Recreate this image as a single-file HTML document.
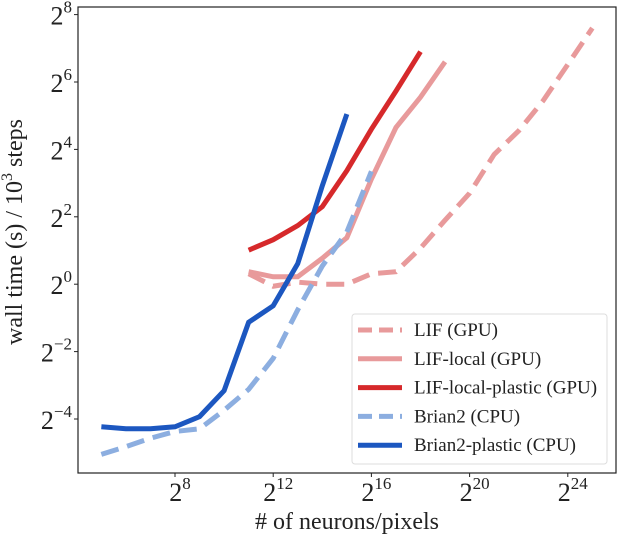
<!DOCTYPE html>
<html><head><meta charset="utf-8"><style>
body{margin:0;background:#fff}
text{font-family:"Liberation Serif",serif;fill:#222}
</style></head><body>
<svg id="chart" width="618" height="538" viewBox="0 0 618 538" font-family="Liberation Serif, serif">
<rect x="78" y="7" width="538" height="466" fill="none" stroke="#222" stroke-width="1.2"/>
<g id="series"></g>
<g id="ticks"></g>
<text x="22" y="232" font-size="24" text-anchor="middle" transform="rotate(-90 22 232)">wall time (s) / 10<tspan font-size="16" dy="-10">3</tspan><tspan dy="10"> steps</tspan></text>
<text x="347" y="529" font-size="24" text-anchor="middle"># of neurons/pixels</text>
<g>
<rect x="352" y="314" width="255" height="150" rx="3" fill="#fff" fill-opacity="0.8" stroke="#ddd"/>
<g id="legend-items"></g>
</g>
</svg>
<script>
const xExpTicks=[8,12,16,20,24];
const yExpTicks=[-4,-2,0,2,4,6,8];
const seriesNames=["LIF (GPU)","LIF-local (GPU)","LIF-local-plastic (GPU)","Brian2 (CPU)","Brian2-plastic (CPU)"];
const lifX=[11,12,13,14,15,16,17,18,19,20,21,22,23,24,25];
const lifY=[0.31,-0.06,0.06,0,0,0.31,0.37,1.07,1.9,2.7,3.85,4.55,5.45,6.52,7.6];
const lifLocalX=[11,12,13,14,15,16,17,18,19];
const lifLocalY=[0.37,0.22,0.22,0.77,1.38,3.12,4.65,5.55,6.6];
const lifPlasticX=[11,12,13,14,15,16,17,18];
const lifPlasticY=[1.01,1.32,1.74,2.3,3.37,4.6,5.73,6.9];
const brianX=[5,6,7,8,9,10,11,12,13,14,15,16];
const brianY=[-5.05,-4.82,-4.57,-4.37,-4.29,-3.74,-3.12,-2.2,-0.76,0.54,1.55,3.35];
const brianPlasticX=[5,6,7,8,9,10,11,12,13,14,15];
const brianPlasticY=[-4.23,-4.29,-4.29,-4.23,-3.93,-3.16,-1.13,-0.64,0.61,2.92,5.05];
const NS="http://www.w3.org/2000/svg";
const xs=k=>175+(k-8)*24.55;
const ys=k=>284.2-k*33.7;
const styles=[
 {c:"#e89a9b",d:"18 9"},{c:"#e89a9b",d:""},{c:"#d6292b",d:""},{c:"#8caee0",d:"18 9"},{c:"#1c57c0",d:""}];
const data=[[lifX,lifY],[lifLocalX,lifLocalY],[lifPlasticX,lifPlasticY],[brianX,brianY],[brianPlasticX,brianPlasticY]];
const sg=document.getElementById('series');
data.forEach((d,i)=>{
 const p=document.createElementNS(NS,'polyline');
 p.setAttribute('points',d[0].map((x,j)=>xs(x)+','+ys(d[1][j])).join(' '));
 p.setAttribute('fill','none');p.setAttribute('stroke',styles[i].c);
 p.setAttribute('stroke-width','5');
 if(styles[i].d)p.setAttribute('stroke-dasharray',styles[i].d);
 
 
 sg.appendChild(p);
});
const tg=document.getElementById('ticks');
xExpTicks.forEach(e=>{
 const l=document.createElementNS(NS,'line');
 l.setAttribute('x1',xs(e));l.setAttribute('x2',xs(e));l.setAttribute('y1',473);l.setAttribute('y2',477);l.setAttribute('stroke','#222');
 
 
 tg.appendChild(l);
 const t=document.createElementNS(NS,'text');
 t.setAttribute('x',xs(e)+5);t.setAttribute('y',501);t.setAttribute('font-size','26');t.setAttribute('text-anchor','middle');
 t.innerHTML='2<tspan font-size="17" dy="-12">'+e+'</tspan>';
 
 
 tg.appendChild(t);
});
yExpTicks.forEach(e=>{
 const l=document.createElementNS(NS,'line');
 l.setAttribute('x1',74);l.setAttribute('x2',78);l.setAttribute('y1',ys(e));l.setAttribute('y2',ys(e));l.setAttribute('stroke','#222');
 
 
 tg.appendChild(l);
 const t=document.createElementNS(NS,'text');
 t.setAttribute('x',72);t.setAttribute('y',ys(e)+10);t.setAttribute('font-size','26');t.setAttribute('text-anchor','end');
 t.innerHTML='2<tspan font-size="17" dy="-12">'+(e<0?'−'+(-e):e)+'</tspan><tspan font-size="1" dy="12"> </tspan>';
 
 
 tg.appendChild(t);
});
const lg=document.getElementById('legend-items');
seriesNames.forEach((n,i)=>{
 const y=330+i*28.8;
 const l=document.createElementNS(NS,'line');
 l.setAttribute('x1',358);l.setAttribute('x2',402);l.setAttribute('y1',y);l.setAttribute('y2',y);
 l.setAttribute('stroke',styles[i].c);l.setAttribute('stroke-width','5');
 if(styles[i].d)l.setAttribute('stroke-dasharray','14 7');
 
 
 lg.appendChild(l);
 const t=document.createElementNS(NS,'text');
 t.setAttribute('x',414);t.setAttribute('y',y+6);t.setAttribute('font-size','19');
 t.textContent=n;
 
 
 lg.appendChild(t);
});
</script>
</body></html>
